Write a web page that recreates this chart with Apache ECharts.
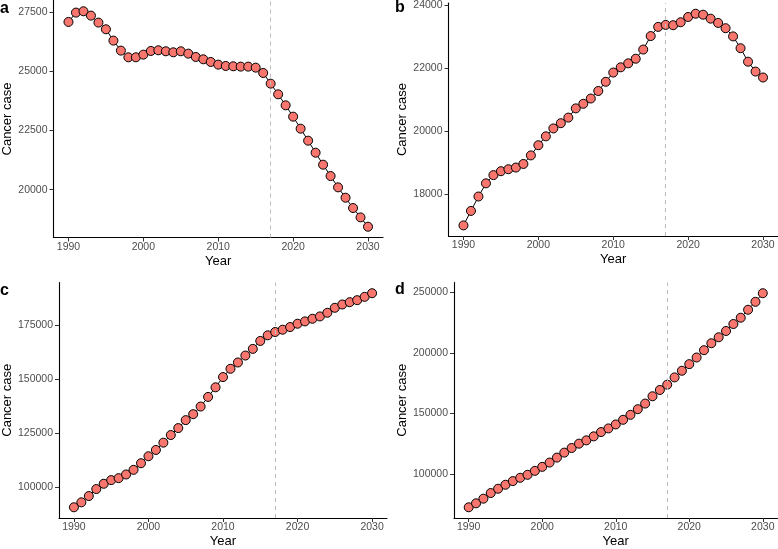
<!DOCTYPE html>
<html>
<head>
<meta charset="utf-8">
<script src="https://cdn.jsdelivr.net/npm/echarts@6/dist/echarts.min.js"></script>
<style>
html,body{margin:0;padding:0;background:#fff;}
#main{width:778px;height:549px;}
</style>
</head>
<body>
<div id="main"></div>
<script>
const years = [];
for (let y = 1990; y <= 2030; y++) years.push(y);

const panelA = [27078,27472,27528,27345,27050,26768,26290,25868,25586,25586,25699,25854,25882,25840,25797,25840,25741,25600,25502,25390,25277,25221,25207,25193,25193,25150,24925,24475,24025,23560,23082,22575,22069,21562,21056,20578,20100,19663,19227,18833,18439];
const panelB = [16995,17456,17916,18335,18597,18722,18785,18838,18953,19225,19550,19832,20084,20251,20429,20723,20869,21037,21277,21570,21864,22031,22157,22304,22597,23026,23319,23382,23372,23466,23634,23738,23707,23581,23445,23277,23016,22639,22210,21895,21707];
const panelC = [90643,92943,95858,99080,101534,103222,104142,105830,107977,111046,114267,117182,120557,124086,127307,130989,133750,137278,141727,146176,150920,154755,157670,160890,163960,167640,170250,171780,172850,174080,175610,176690,177920,178990,180680,182980,184520,185590,186510,188050,189740];
const panelD = [72680,75960,79780,84430,87980,91260,94260,97000,99450,102730,106010,109560,113660,117760,121580,125140,127870,131150,134700,137700,140980,144810,148910,153550,158200,164210,169400,173770,179780,185250,190710,196180,202190,207930,212850,218040,223780,228970,235530,242080,249180];

const xTicks = [1990, 2000, 2010, 2020, 2030];
const yTicksA = [20000, 22500, 25000, 27500];
const yTicksB = [18000, 20000, 22000, 24000];
const yTicksC = [100000, 125000, 150000, 175000];
const yTicksD = [100000, 150000, 200000, 250000];
const panelLabels = ['a', 'b', 'c', 'd'];
const projectionStart = 2017;
const yTitle = 'Cancer case';
const xTitle = 'Year';

const FONT = '"Liberation Sans", Arial, Helvetica, sans-serif';

const grids = [
  {left: 53.5, top: 0.5, width: 329.5, height: 237},
  {left: 448.5, top: 0.5, width: 329.5, height: 235.5},
  {left: 59, top: 282.5, width: 328, height: 236},
  {left: 454, top: 282.5, width: 323.5, height: 236.5}
];
const datasets = [panelA, panelB, panelC, panelD];
const yTicks = [yTicksA, yTicksB, yTicksC, yTicksD];

function expand(arr) {
  const mn = Math.min(...arr), mx = Math.max(...arr);
  const r = mx - mn;
  return [mn - 0.05 * r, mx + 0.05 * r];
}

const xAxes = [], yAxes = [], series = [], titles = [];
const titlePos = [[0, 1], [395, 0], [0, 283], [395, 282]];

datasets.forEach((d, i) => {
  const [ymin, ymax] = expand(d);
  xAxes.push({
    type: 'value', gridIndex: i, min: 1988, max: 2032,
    name: xTitle, nameLocation: 'middle', nameGap: 17,
    nameTextStyle: {fontFamily: FONT, fontSize: 13, color: '#000'},
    axisLine: {show: true, lineStyle: {color: '#000', width: 1.1}},
    axisTick: {show: true, length: 4, lineStyle: {color: '#333'}, customValues: xTicks},
    axisLabel: {customValues: xTicks, margin: 4, fontFamily: FONT, fontSize: 10.5, color: '#4D4D4D', formatter: v => String(v)},
    splitLine: {show: false}
  });
  yAxes.push({
    type: 'value', gridIndex: i, min: ymin, max: ymax,
    name: yTitle, nameLocation: 'middle', nameGap: 38, nameRotate: 90,
    nameTextStyle: {fontFamily: FONT, fontSize: 13, color: '#000'},
    axisLine: {show: true, lineStyle: {color: '#000', width: 1.1}},
    axisTick: {show: true, length: 4, lineStyle: {color: '#333'}, customValues: yTicks[i]},
    axisLabel: {customValues: yTicks[i], margin: 6, fontFamily: FONT, fontSize: 10.5, color: '#4D4D4D', formatter: v => String(v)},
    splitLine: {show: false}
  });
  series.push({
    type: 'line', xAxisIndex: i, yAxisIndex: i, data: [], z: 1,
    markLine: {
      silent: true, symbol: 'none', label: {show: false}, animation: false,
      lineStyle: {color: '#BDBDBD', type: [4, 4], width: 1},
      data: [{xAxis: projectionStart}]
    }
  });
  series.push({
    type: 'line', xAxisIndex: i, yAxisIndex: i,
    data: years.map((y, k) => [y, d[k]]),
    symbol: 'circle', symbolSize: 9,
    lineStyle: {color: '#000', width: 1},
    itemStyle: {color: '#F8766D', borderColor: '#000', borderWidth: 1},
    animation: false, z: 3
  });
  titles.push({
    text: panelLabels[i], left: titlePos[i][0], top: titlePos[i][1], padding: 0,
    textStyle: {fontFamily: FONT, fontSize: 16, fontWeight: 'bold', color: '#000'}
  });
});

const chart = echarts.init(document.getElementById('main'), null, {renderer: 'canvas'});
chart.setOption({
  animation: false,
  backgroundColor: '#fff',
  title: titles,
  grid: grids,
  xAxis: xAxes,
  yAxis: yAxes,
  series: series
});
</script>
</body>
</html>
